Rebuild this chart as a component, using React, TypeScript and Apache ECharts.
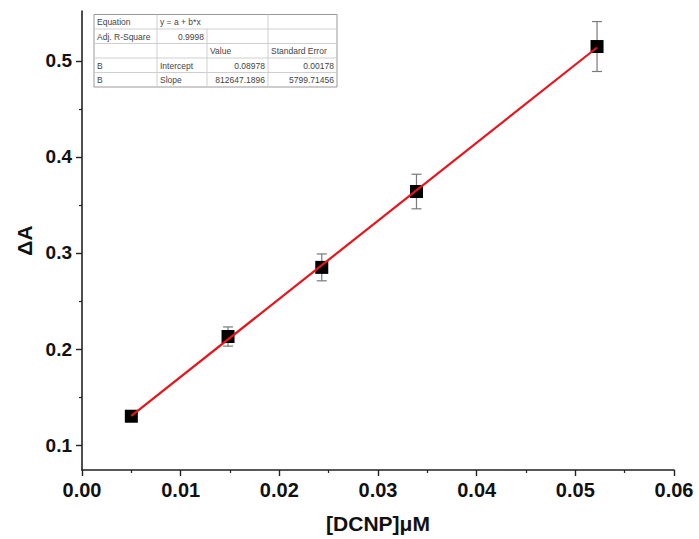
import React, { useEffect, useRef } from "react";
import * as echarts from "echarts";

const xValues = [0.005, 0.0148, 0.0243, 0.0339, 0.0522];
const yValues = [0.13, 0.213, 0.285, 0.364, 0.515];
const yErrors = [0.003, 0.01, 0.014, 0.018, 0.026];
const fitX = [0.005, 0.0522];
const fitY = [0.1304, 0.514];
const xTicks = [0, 0.01, 0.02, 0.03, 0.04, 0.05, 0.06];
const xMinorTicks = [0.005, 0.015, 0.025, 0.035, 0.045, 0.055];
const yMajorTicks = [0.1, 0.2, 0.3, 0.4, 0.5];
const yMinorTicks = [0.15, 0.25, 0.35, 0.45];
const tableRows = [
  ["Equation", "y = a + b*x", "", ""],
  ["Adj. R-Square", "0.9998", "", ""],
  ["", "", "Value", "Standard Error"],
  ["B", "Intercept", "0.08978", "0.00178"],
  ["B", "Slope", "812647.1896", "5799.71456"],
];
const rightAligned = [
  [false, false, false, false],
  [false, true, false, false],
  [false, false, false, false],
  [false, false, true, true],
  [false, false, true, true],
];

const FONT = "'Liberation Sans', Arial, sans-serif";

function buildTable() {
  const colX = [94, 157, 207, 268, 337];
  const top = 14.5;
  const rowH = 14.5;
  const els: any[] = [];
  const total = rowH * tableRows.length;
  els.push({
    type: "rect",
    shape: { x: colX[0], y: top, width: colX[4] - colX[0], height: total },
    style: { fill: "#fff", stroke: "#999", lineWidth: 1 },
    z: 10,
  });
  for (let r = 1; r < tableRows.length; r++) {
    els.push({
      type: "line",
      shape: { x1: colX[0], y1: top + r * rowH, x2: colX[4], y2: top + r * rowH },
      style: { stroke: "#cfcfcf", lineWidth: 1 },
      z: 11,
    });
  }
  for (let r = 0; r < tableRows.length; r++) {
    for (let c = 1; c < 4; c++) {
      if (r === 0 && c === 2) continue;
      els.push({
        type: "line",
        shape: { x1: colX[c], y1: top + r * rowH, x2: colX[c], y2: top + (r + 1) * rowH },
        style: { stroke: "#cfcfcf", lineWidth: 1 },
        z: 11,
      });
    }
    for (let c = 0; c < 4; c++) {
      const t = tableRows[r][c];
      if (!t) continue;
      const ra = rightAligned[r][c];
      els.push({
        type: "text",
        x: ra ? colX[c + 1] - 3 : colX[c] + 3,
        y: top + r * rowH + rowH / 2 + 0.5,
        style: {
          text: t,
          fill: "#444",
          font: `8.5px ${FONT}`,
          textAlign: ra ? "right" : "left",
          textVerticalAlign: "middle",
        },
        z: 12,
      });
    }
  }
  return els;
}

export default function App() {
  const ref = useRef<HTMLDivElement>(null);
  useEffect(() => {
    if (!ref.current) return;
    const chart = echarts.init(ref.current, undefined, { renderer: "svg" });
    const yMin = 0.074;
    const yMax = 0.552;
    const labelStyle = { color: "#111", fontWeight: "bold" as const, fontFamily: FONT };
    const axisLineStyle = { color: "#222", width: 1.6 };
    chart.setOption({
      animation: false,
      backgroundColor: "#fff",
      grid: { left: 82, right: 25, top: 11, bottom: 69 },
      xAxis: [
        {
          type: "value",
          min: 0,
          max: 0.06,
          interval: 0.01,
          name: "[DCNP]\u03bcM",
          nameLocation: "middle",
          nameGap: 43,
          nameTextStyle: { color: "#111", fontWeight: "bold", fontSize: 21, fontFamily: FONT },
          axisLine: { onZero: false, lineStyle: axisLineStyle },
          axisTick: { show: true, length: 6, lineStyle: { color: "#222", width: 1.4 }, customValues: xTicks },
          splitLine: { show: false },
          axisLabel: {
            ...labelStyle,
            fontSize: 20,
            margin: 10,
            customValues: xTicks,
            formatter: (v: number) => v.toFixed(2),
          },
        },
        {
          type: "value",
          min: 0,
          max: 0.06,
          interval: 0.01,
          position: "bottom",
          axisLine: { show: false, onZero: false },
          axisTick: { show: true, length: 3, lineStyle: { color: "#222", width: 1.2 }, customValues: xMinorTicks },
          axisLabel: { show: false },
          splitLine: { show: false },
        },
      ],
      yAxis: [
        {
          type: "value",
          min: yMin,
          max: yMax,
          name: "\u0394A",
          nameLocation: "middle",
          nameGap: 43,
          nameTextStyle: { color: "#111", fontWeight: "bold", fontSize: 21, fontFamily: FONT },
          axisLine: { show: true, lineStyle: axisLineStyle },
          axisTick: { show: true, length: 6, lineStyle: { color: "#222", width: 1.4 }, customValues: yMajorTicks },
          splitLine: { show: false },
          axisLabel: {
            ...labelStyle,
            fontSize: 19,
            margin: 10,
            customValues: yMajorTicks,
            formatter: (v: number) => v.toFixed(1),
          },
        },
        {
          type: "value",
          min: yMin,
          max: yMax,
          position: "left",
          axisLine: { show: false },
          axisTick: { show: true, length: 3, lineStyle: { color: "#222", width: 1.2 }, customValues: yMinorTicks },
          axisLabel: { show: false },
          splitLine: { show: false },
        },
      ],
      series: [
        {
          type: "custom",
          name: "err",
          z: 2,
          data: xValues.map((x, i) => [x, yValues[i] - yErrors[i], yValues[i] + yErrors[i]]),
          renderItem: (params: any, api: any) => {
            const x = api.value(0);
            const lo = api.coord([x, api.value(1)]);
            const hi = api.coord([x, api.value(2)]);
            const cap = 5;
            const st = { stroke: "#7a7a7a", lineWidth: 1.2 };
            return {
              type: "group",
              children: [
                { type: "line", shape: { x1: lo[0], y1: lo[1], x2: hi[0], y2: hi[1] }, style: st },
                { type: "line", shape: { x1: lo[0] - cap, y1: lo[1], x2: lo[0] + cap, y2: lo[1] }, style: st },
                { type: "line", shape: { x1: hi[0] - cap, y1: hi[1], x2: hi[0] + cap, y2: hi[1] }, style: st },
              ],
            };
          },
        },
        {
          type: "scatter",
          z: 3,
          symbol: "rect",
          symbolSize: 13,
          itemStyle: { color: "#000", opacity: 1 },
          data: xValues.map((x, i) => [x, yValues[i]]),
        },
        {
          type: "line",
          z: 4,
          symbol: "none",
          lineStyle: { color: "#e8131b", width: 2.2 },
          data: fitX.map((x, i) => [x, fitY[i]]),
        },
      ],
      graphic: buildTable(),
    });
    return () => chart.dispose();
  }, []);
  return (
    <div
      ref={ref}
      style={{ position: "absolute", left: 0, top: 0, width: 699, height: 539, background: "#fff" }}
    />
  );
}
